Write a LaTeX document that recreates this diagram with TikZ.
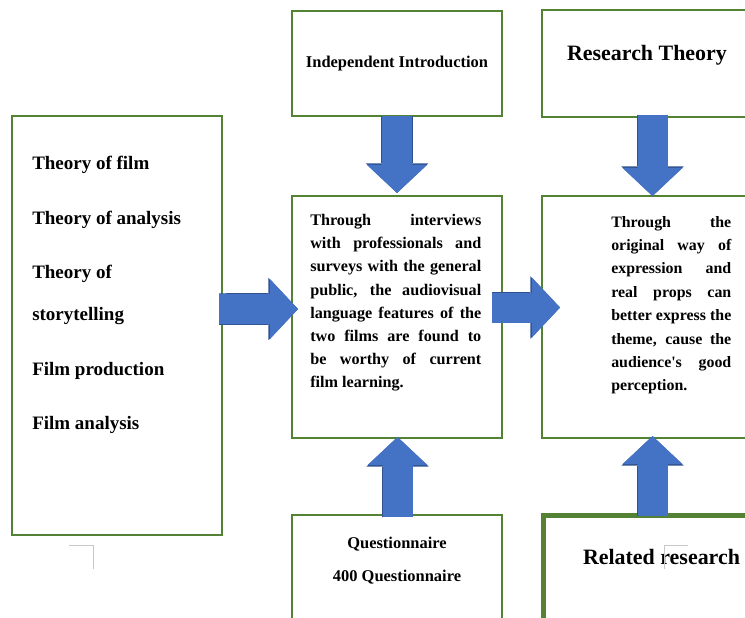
\documentclass[tikz,border=0pt]{standalone}
\usepackage{fontspec}
\setmainfont{Liberation Serif}
\usetikzlibrary{calc, arrows.meta}
\definecolor{boxgreen}{RGB}{84,130,53}
\definecolor{arrowblue}{RGB}{68,114,196}
\definecolor{arrowrim}{RGB}{47,82,143}
\definecolor{markgray}{RGB}{200,200,200}

\begin{document}
\begin{tikzpicture}[x=0.025cm, y=-0.025cm,
		box/.style={draw=boxgreen, line width=1.5pt, fill=white, anchor=north west, inner sep=0pt, outer sep=0pt, minimum width=5.25cm},
		txt/.style={font=\bfseries\fontsize{11.7}{14}\selectfont, inner sep=0pt},
		bigtxt/.style={font=\bfseries\fontsize{15.6}{18}\selectfont, inner sep=0pt},
		listtxt/.style={font=\bfseries\fontsize{13.5}{16}\selectfont, anchor=base west, inner sep=0pt},
		para/.style={font=\bfseries\fontsize{11.5}{16.5}\selectfont, anchor=north west, inner sep=0pt, align=justify},
		rim/.style={line width=0.79cm, draw=arrowrim, -{Triangle[width=1.56cm, length=0.74cm, line width=0pt]}},
		blockarrow/.style={line width=0.75cm, draw=arrowblue, -{Triangle[width=1.5cm, length=0.7cm, line width=0pt]}},
		cornermark/.style={draw=markgray, line width=0.6pt}
	]
	\useasboundingbox (0,0) rectangle (745,618);
	\clip (0,0) rectangle (745,618);
	
	%% boxes
	\node[box, minimum height=10.475cm] (theories) at (12,116) {};
	\node[box, minimum height=2.625cm] (intro) at (292,11) {};
	\node[box, minimum height=6.05cm] (survey) at (292,196) {};
	\node[box, minimum height=2.75cm] (quest) at (292,515) {};
	\node[box, minimum height=2.675cm] (theory) at (542,10) {};
	\node[box, minimum height=6.05cm] (finding) at (542,196) {};
	\node[box, minimum height=2.75cm, line width=3.5pt] (related) at (543.5,515.5) {};
	
	%% arrow ends
	\coordinate (a1s) at ($(theories.east)+(-3,-16.5)$);
	\coordinate (a1e) at ($(survey.west)+(6,-8)$);
	\coordinate (a2s) at ($(survey.east)+(-10,-9.5)$);
	\coordinate (a2e) at ($(finding.west)+(18,-9.5)$);
	\coordinate (a3s) at (intro.south);
	\coordinate (a3e) at ($(survey.north)+(0,-3)$);
	\coordinate (a4s) at ($(theory.south)+(5.5,-2)$);
	\coordinate (a4e) at ($(finding.north)+(5.5,0)$);
	\coordinate (a5s) at ($(quest.north)+(0.5,2)$);
	\coordinate (a5e) at ($(survey.south)+(0.5,-1)$);
	\coordinate (a6s) at ($(related.north)+(4,0.5)$);
	\coordinate (a6e) at ($(finding.south)+(5.5,-2)$);
	\foreach \s/\e in {a1s/a1e, a2s/a2e, a3s/a3e, a4s/a4e, a5s/a5e, a6s/a6e} {
		\draw[rim] (\s) -- (\e);
		\draw[blockarrow] (\s) -- (\e);
	}
	
	%% texts
	\foreach \t/\y [count=\i] in {Theory of film/169, Theory of analysis/224, Theory of/278,
		storytelling/320, Film production/375, Film analysis/429} {
		\node[listtxt] (item\i) at (32,\y) {\t};
	}
	\node[txt] (introtxt) at (397,64) {Independent Introduction};
	\node[bigtxt] (theorytxt) at (647,55) {Research Theory};
	\node[bigtxt] (relatedtxt) at (661.5,557) {Related research};
	\node[txt] (questtxt) at (397,544) {Questionnaire};
	\node[txt] (counttxt) at (397,577) {400 Questionnaire};
	\node[para, text width=4.275cm] (surveytxt) at (310,214) {Through interviews\linebreak
		with professionals and\linebreak surveys with the general\linebreak
		public, the audiovisual\linebreak language features of the\linebreak
		two films are found to\linebreak be worthy of current\linebreak film learning.};
	\node[para, font=\bfseries\fontsize{11.3}{16.6}\selectfont, text width=3.0cm] (findtxt) at (611,216) {Through the\linebreak
		original way of\linebreak expression and\linebreak real props can\linebreak
		better express the\linebreak theme, cause the\linebreak
		audience\textquotesingle s good\linebreak perception.};
	
	%% corner marks
	\draw[cornermark] (69,545) -- (93,545) -- (93,569);
	\draw[cornermark] (688,545) -- (664,545) -- (664,569);
\end{tikzpicture}
\end{document}
